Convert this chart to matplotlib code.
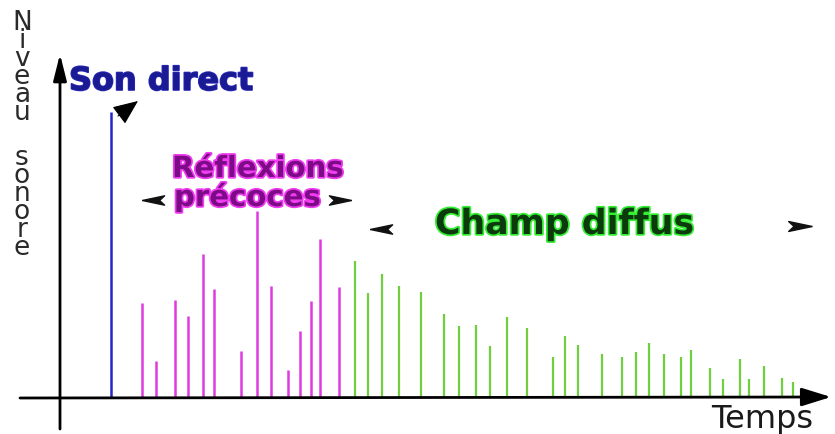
import matplotlib
matplotlib.use("Agg")
import matplotlib.pyplot as plt
from matplotlib import patheffects as pe

# ---- data (time in arbitrary units, level in arbitrary units) ----
direct_t = [111]
direct_level = [286]

early_t = [142, 156, 175, 188, 203, 214, 241, 257, 271, 288, 300, 311, 320, 339]
early_level = [95, 37, 98, 82, 144, 109, 47, 187, 112, 28, 67, 97, 159, 111]

late_t = [355, 368, 382, 399, 421, 444, 459, 476, 490, 507, 527, 553, 565, 578,
          602, 622, 636, 649, 664, 681, 691, 710, 723, 740, 749, 764, 782, 793]
late_level = [137, 105, 124, 112, 106, 84, 72, 73, 52, 81, 70, 41, 62, 53,
              44, 41, 46, 55, 44, 41, 48, 30, 19, 39, 19, 32, 20, 16]

label_direct = "Son direct"
label_early = ["Réflexions", "précoces"]
label_late = "Champ diffus"
xlabel = "Temps"
ylabel_words = ["Niveau", "sonore"]

# ---- figure ----
fig = plt.figure(figsize=(8.35, 4.35), dpi=100)
ax = fig.add_axes([0, 0, 1, 1])
ax.set_xlim(0, 835)
ax.set_ylim(-36, 399)
ax.axis("off")

# impulses
ax.vlines(direct_t, 0, direct_level, color="#2626c8", lw=1.8)
ax.vlines(early_t, 0, early_level, color="#df3adf", lw=1.8)
ax.vlines(late_t, 0, late_level, color="#6fcf3e", lw=1.6)

# axes with arrows
ax.annotate("", xy=(831, 1), xytext=(20, 0),
            arrowprops=dict(arrowstyle="-|>,head_length=0.9,head_width=0.28",
                            lw=2, color="black", mutation_scale=20,
                            shrinkA=0, shrinkB=0))
ax.annotate("", xy=(60, 344), xytext=(60, -31),
            arrowprops=dict(arrowstyle="-|>,head_length=0.8,head_width=0.2",
                            lw=2, color="black", mutation_scale=20,
                            shrinkA=0, shrinkB=0))

# pointer for direct sound
ax.annotate("", xy=(138, 297), xytext=(118, 282),
            arrowprops=dict(arrowstyle="-|>,head_length=0.75,head_width=0.32",
                            lw=0.8, color="black", mutation_scale=21,
                            shrinkA=0, shrinkB=0))

# bracket arrowheads
left_head = [(-1, 0), (1, 0.42), (0.55, 0), (1, -0.42), (-1, 0)]
right_head = [(-x, y) for x, y in left_head]
ax.plot([153], [198], marker=left_head, ms=16, color="#111111", ls="none")
ax.plot([340], [198], marker=right_head, ms=16, color="#111111", ls="none")
ax.plot([381], [169], marker=left_head, ms=16, color="#111111", ls="none")
ax.plot([800], [172], marker=right_head, ms=17, color="#111111", ls="none")

# texts
ax.text(69, 308, label_direct, fontsize=23, fontweight="bold", color="#1a1a92",
        family="DejaVu Sans", ha="left", va="baseline",
        path_effects=[pe.withStroke(linewidth=1.2, foreground="#2a2ab8")])
ax.text(172, 221, label_early[0], fontsize=21, fontweight="bold", color="#7d0a86",
        family="DejaVu Sans", ha="left", va="baseline",
        path_effects=[pe.withStroke(linewidth=2.5, foreground="#f03cf0")])
ax.text(174, 192, label_early[1], fontsize=21, fontweight="bold", color="#7d0a86",
        family="DejaVu Sans", ha="left", va="baseline",
        path_effects=[pe.withStroke(linewidth=2.5, foreground="#f03cf0")])
ax.text(435, 164, label_late, fontsize=25, fontweight="bold", color="#0c3a0c",
        family="DejaVu Sans", ha="left", va="baseline",
        path_effects=[pe.withStroke(linewidth=2.5, foreground="#33ee33")])
ax.text(711, -29, xlabel, fontsize=23, color="#1a1a1a",
        family="DejaVu Sans", ha="left", va="baseline")

ax.text(22, 389, "\n".join(ylabel_words[0]), fontsize=19, color="#2a2a2a",
        family="DejaVu Sans", ha="center", va="top", multialignment="center",
        linespacing=0.6)
ax.text(22, 254, "\n".join(ylabel_words[1]), fontsize=19, color="#2a2a2a",
        family="DejaVu Sans", ha="center", va="top", multialignment="center",
        linespacing=0.6)

fig.savefig("out.png", dpi=100, facecolor="white")
